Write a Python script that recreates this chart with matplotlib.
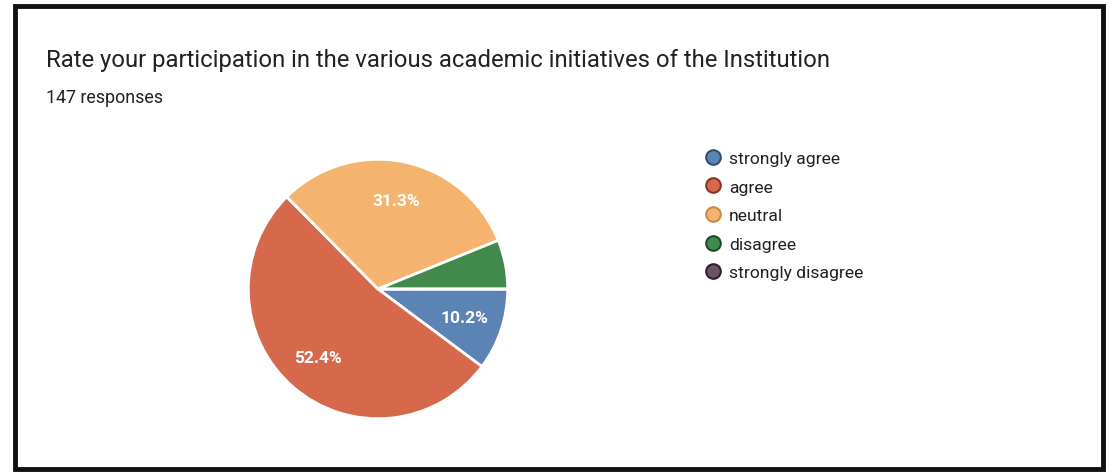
import matplotlib
matplotlib.use("Agg")
import matplotlib.pyplot as plt
from matplotlib.lines import Line2D
from matplotlib.patches import Rectangle

plt.rcParams['font.family'] = ['Roboto', 'DejaVu Sans']

title = 'Rate your participation in the various academic initiatives of the Institution'
subtitle = '147 responses'
labels = ['strongly agree', 'agree', 'neutral', 'disagree', 'strongly disagree']
counts = [15, 77, 46, 9, 0]
colors = ['#5b84b4', '#d6694c', '#f4b46f', '#428a4b', '#6a5468']
edge_colors = ['#2f4f70', '#8a3320', '#c98a4a', '#1f4a26', '#2a1f2a']

fig = plt.figure(figsize=(11.13, 4.77), dpi=100)
fig.patch.set_facecolor('white')

# photographed frame around the chart
fig.patches.append(Rectangle((15 / 1113, 7 / 477), 1088 / 1113, 463 / 477,
                             transform=fig.transFigure, fill=False,
                             edgecolor='#111111', linewidth=3.5))

fig.text(46 / 1113, 1 - 61 / 477, title, fontsize=17.2, color='#202124', va='center')
fig.text(46 / 1113, 1 - 98 / 477, subtitle, fontsize=12.9, color='#202124', va='center')

ax = fig.add_axes([247 / 1113, 56 / 477, 262 / 1113, 262 / 477])


def pct(p):
    return '%.1f%%' % p if p >= 8 else ''


wedges, texts, autotexts = ax.pie(counts, colors=colors, startangle=0, counterclock=False,
                                  autopct=pct, pctdistance=0.7,
                                  wedgeprops=dict(edgecolor='white', linewidth=2))
for t in autotexts:
    t.set_color('white')
    t.set_fontsize(12.5)
    t.set_fontweight('bold')
ax.set_xlim(-1.01, 1.01)
ax.set_ylim(-1.01, 1.01)
ax.set_aspect('equal')

handles = [Line2D([], [], marker='o', linestyle='', markersize=10.5,
                  markerfacecolor=c, markeredgecolor=e, markeredgewidth=1.5)
           for c, e in zip(colors, edge_colors)]
fig.legend(handles, labels, loc='upper left', bbox_to_anchor=(687 / 1113, 1 - 136 / 477),
           frameon=False, fontsize=12.6, labelspacing=0.76, handletextpad=0.3,
           handlelength=1.2, labelcolor='#202124')

fig.savefig('out.png', dpi=100, facecolor='white')
